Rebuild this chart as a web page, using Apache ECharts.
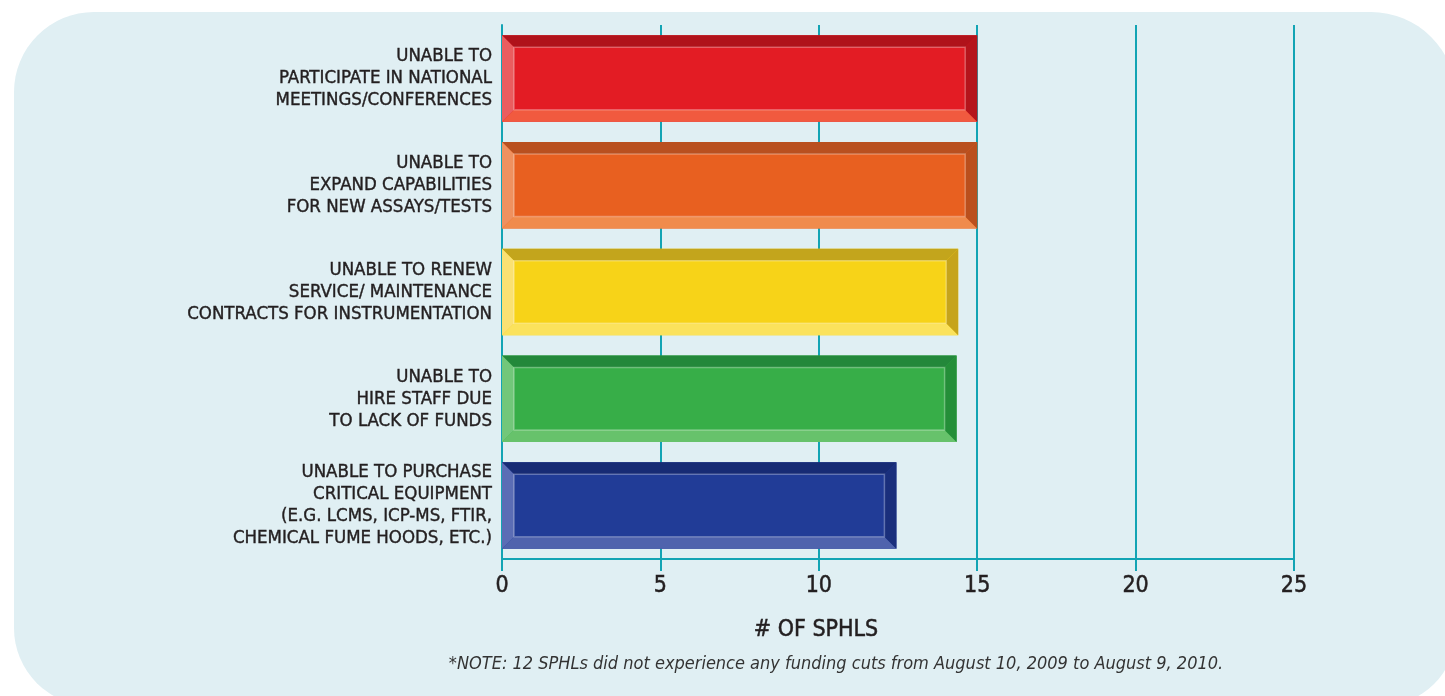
<!DOCTYPE html>
<html>
<head>
<meta charset="utf-8">
<style>
  html, body { margin: 0; padding: 0; background: #ffffff; }
  #chart { width: 1445px; height: 696px; }
</style>
<script src="https://cdn.jsdelivr.net/npm/echarts@6/dist/echarts.min.js"></script>
</head>
<body>
<div id="chart"></div>
<script>
// categories, top to bottom
const categories = [
  'UNABLE TO\nPARTICIPATE IN NATIONAL\nMEETINGS/CONFERENCES',
  'UNABLE TO\nEXPAND CAPABILITIES\nFOR NEW ASSAYS/TESTS',
  'UNABLE TO RENEW\nSERVICE/ MAINTENANCE\nCONTRACTS FOR INSTRUMENTATION',
  'UNABLE TO\nHIRE STAFF DUE\nTO LACK OF FUNDS',
  'UNABLE TO PURCHASE\nCRITICAL EQUIPMENT\n(E.G. LCMS, ICP-MS, FTIR,\nCHEMICAL FUME HOODS, ETC.)'
];
// # of SPHLs per category
const counts = [15, 15, 14.4, 14.35, 12.45];
const axisTicks = [0, 5, 10, 15, 20, 25];

const axisName = '# OF SPHLS';
const note = '*NOTE: 12 SPHLs did not experience any funding cuts from August 10, 2009 to August 9, 2010.';

// bevel colours per bar
const palette = [
  { face: '#e31c24', top: '#b0121a', bottom: '#f15a3f', left: '#ea5d5f', right: '#b5141b' },
  { face: '#e86020', top: '#b9501f', bottom: '#f08b4c', left: '#ef915f', right: '#bb4f1c' },
  { face: '#f7d318', top: '#c3a51c', bottom: '#fbe25c', left: '#fae172', right: '#c6a41b' },
  { face: '#37ae48', top: '#23883a', bottom: '#67c26b', left: '#72c77a', right: '#248f38' },
  { face: '#213c97', top: '#172b74', bottom: '#4f63ad', left: '#5b6db5', right: '#1a2f7c' }
];

const TEAL = '#13a4b4';
const INK = '#231f20';
const FONT = '"DejaVu Sans Condensed", "Liberation Sans Narrow", sans-serif';

function renderBar(params, api) {
  const idx = api.value(1);
  const val = api.value(0);
  const start = api.coord([0, idx]);
  const end = api.coord([val, idx]);
  const h = api.size([0, 1])[1] * 0.81;
  const x0 = start[0];
  const x1 = end[0];
  const y0 = start[1] - h / 2;
  const y1 = start[1] + h / 2;
  const b = 12;
  const p = palette[idx];

  return {
    type: 'group',
    children: [
      { type: 'rect', shape: { x: x0, y: y0, width: x1 - x0, height: h }, style: { fill: p.face } },
      { type: 'polygon', shape: { points: [[x0, y0], [x1, y0], [x1 - b, y0 + b], [x0 + b, y0 + b]] }, style: { fill: p.top } },
      { type: 'polygon', shape: { points: [[x0, y1], [x1, y1], [x1 - b, y1 - b], [x0 + b, y1 - b]] }, style: { fill: p.bottom } },
      { type: 'polygon', shape: { points: [[x0, y0], [x0 + b, y0 + b], [x0 + b, y1 - b], [x0, y1]] }, style: { fill: p.left } },
      { type: 'polygon', shape: { points: [[x1, y0], [x1 - b, y0 + b], [x1 - b, y1 - b], [x1, y1]] }, style: { fill: p.right } },
      {
        type: 'rect',
        shape: { x: x0 + b, y: y0 + b, width: x1 - x0 - 2 * b, height: h - 2 * b },
        style: { fill: p.face, stroke: 'rgba(255,255,255,0.3)', lineWidth: 1.5 }
      }
    ]
  };
}

const chart = echarts.init(document.getElementById('chart'));

chart.setOption({
  animation: false,
  textStyle: { fontFamily: FONT },
  graphic: [
    {
      type: 'rect',
      z: -100,
      shape: { x: 14, y: 12, width: 1442, height: 694, r: [80, 85, 75, 78] },
      style: { fill: '#e0eff3' }
    },
    {
      type: 'text',
      x: 816,
      y: 630,
      style: {
        text: axisName,
        fill: INK,
        font: '23px ' + FONT,
        align: 'center',
        verticalAlign: 'middle',
        stroke: INK,
        lineWidth: 0.5
      }
    },
    {
      type: 'text',
      x: 836,
      y: 664,
      style: {
        text: note,
        fill: '#333333',
        font: 'italic 18px ' + FONT,
        align: 'center',
        verticalAlign: 'middle'
      }
    }
  ],
  grid: {
    left: 502,
    right: 151,
    top: 25,
    bottom: 137
  },
  xAxis: {
    type: 'value',
    position: 'bottom',
    min: axisTicks[0],
    max: axisTicks[axisTicks.length - 1],
    interval: 5,
    axisLine: { show: true, onZero: false, lineStyle: { color: TEAL, width: 2 } },
    axisTick: { show: true, inside: false, length: 12, lineStyle: { color: TEAL, width: 2 } },
    axisLabel: {
      fontSize: 23,
      color: INK,
      margin: 16,
      fontFamily: FONT,
      textBorderColor: INK,
      textBorderWidth: 0.5
    },
    splitLine: { show: true, lineStyle: { color: TEAL, width: 2 } }
  },
  yAxis: {
    type: 'category',
    inverse: true,
    data: categories,
    axisLine: { show: true, lineStyle: { color: TEAL, width: 2 } },
    axisTick: { show: false },
    axisLabel: {
      fontSize: 18.5,
      lineHeight: 22,
      color: INK,
      margin: 10,
      align: 'right',
      fontFamily: FONT,
      textBorderColor: INK,
      textBorderWidth: 0.4
    }
  },
  series: [
    {
      type: 'custom',
      renderItem: renderBar,
      encode: { x: 0, y: 1 },
      data: counts.map((v, i) => [v, i]),
      z: 5
    }
  ]
});
</script>
</body>
</html>
